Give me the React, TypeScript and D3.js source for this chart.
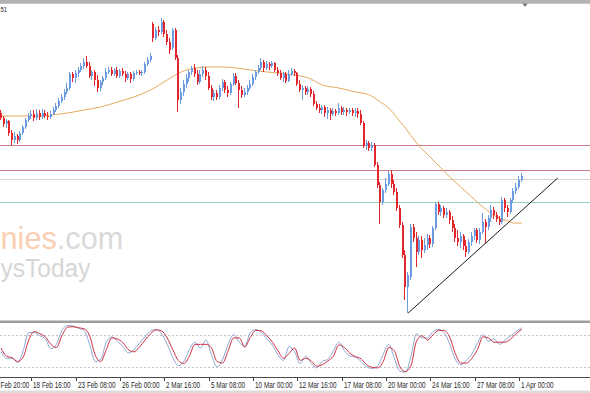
import React from 'react';
import * as d3 from 'd3';

// H4 candles: [open, high, low, close]
const candles: [number, number, number, number][] = [
  [1317,1320,1310,1312],[1312,1314,1303,1306],[1306,1311,1302,1309],[1309,1310,1294,1297],[1297,1300,1285,1290],
  [1290,1298,1287,1294],[1294,1296,1286,1290],[1290,1299,1288,1297],[1297,1305,1295,1303],[1303,1312,1301,1310],
  [1310,1317,1308,1314],[1314,1320,1311,1316],[1316,1320,1309,1312],[1312,1321,1310,1317],[1317,1320,1310,1313],
  [1313,1321,1311,1317],[1317,1320,1312,1314],[1314,1318,1310,1313],[1313,1319,1311,1316],[1316,1323,1315,1320],
  [1320,1327,1318,1324],[1324,1332,1322,1329],[1329,1336,1327,1333],[1333,1341,1330,1338],[1338,1347,1336,1342],
  [1342,1358,1340,1356],[1356,1358,1348,1352],[1352,1360,1347,1357],[1357,1363,1353,1360],[1360,1367,1358,1364],
  [1364,1372,1361,1368],[1368,1374,1362,1364],[1364,1368,1352,1354],[1354,1360,1350,1358],[1358,1360,1344,1350],
  [1350,1355,1338,1342],[1342,1350,1339,1348],[1348,1354,1345,1352],[1352,1362,1350,1358],[1358,1363,1356,1360],
  [1360,1363,1354,1356],[1356,1362,1354,1360],[1360,1363,1352,1354],[1354,1361,1352,1359],[1359,1362,1354,1356],
  [1356,1359,1348,1352],[1352,1358,1350,1356],[1356,1358,1347,1351],[1351,1359,1349,1357],[1357,1360,1355,1358],
  [1358,1360,1355,1357],[1357,1360,1354,1358],[1358,1368,1356,1366],[1366,1373,1364,1370],[1370,1377,1368,1374],
  [1406,1408,1388,1392],[1392,1403,1390,1400],[1400,1404,1394,1398],[1398,1412,1396,1408],[1408,1410,1393,1396],
  [1396,1400,1385,1388],[1388,1392,1376,1380],[1382,1402,1380,1400],[1400,1402,1370,1372],[1372,1375,1318,1330],
  [1330,1342,1326,1338],[1338,1350,1334,1346],[1346,1356,1342,1352],[1352,1360,1348,1358],[1358,1364,1355,1362],
  [1362,1366,1353,1356],[1356,1360,1345,1348],[1348,1360,1346,1356],[1356,1364,1353,1360],[1360,1363,1350,1354],
  [1354,1358,1340,1342],[1342,1345,1330,1333],[1333,1340,1329,1337],[1337,1340,1330,1333],[1333,1345,1331,1342],
  [1342,1351,1339,1348],[1348,1350,1337,1340],[1340,1344,1333,1337],[1337,1348,1335,1346],[1346,1357,1344,1354],
  [1354,1357,1345,1347],[1347,1350,1322,1340],[1340,1344,1332,1335],[1335,1342,1333,1338],[1338,1345,1335,1342],
  [1342,1350,1340,1346],[1346,1356,1344,1353],[1353,1360,1350,1358],[1358,1365,1356,1362],[1362,1372,1360,1368],
  [1368,1370,1358,1362],[1362,1369,1360,1366],[1366,1368,1360,1364],[1364,1369,1362,1367],[1367,1368,1358,1360],
  [1360,1363,1354,1357],[1357,1360,1350,1352],[1352,1358,1348,1356],[1356,1358,1347,1349],[1349,1360,1348,1356],
  [1356,1362,1354,1359],[1359,1361,1354,1357],[1357,1358,1344,1346],[1346,1350,1338,1340],[1340,1345,1330,1342],
  [1342,1344,1335,1338],[1338,1344,1335,1341],[1341,1343,1333,1336],[1336,1339,1324,1326],[1326,1329,1320,1322],
  [1322,1326,1317,1320],[1320,1325,1316,1323],[1323,1325,1313,1317],[1317,1323,1311,1320],[1320,1322,1310,1316],
  [1316,1322,1314,1319],[1319,1321,1314,1317],[1317,1327,1315,1322],[1322,1324,1315,1318],[1318,1323,1315,1320],
  [1320,1322,1314,1318],[1318,1322,1316,1320],[1320,1322,1314,1317],[1317,1322,1313,1319],[1319,1322,1312,1316],
  [1316,1320,1305,1307],[1307,1309,1282,1284],[1284,1290,1280,1287],[1287,1289,1279,1282],[1282,1288,1279,1285],
  [1285,1287,1263,1265],[1265,1268,1242,1245],[1245,1248,1206,1228],[1228,1242,1225,1240],[1240,1252,1237,1246],
  [1246,1259,1244,1256],[1256,1260,1242,1246],[1246,1250,1235,1238],[1238,1242,1219,1222],[1222,1225,1202,1205],
  [1205,1208,1172,1175],[1175,1180,1130,1143],[1143,1158,1117,1155],[1153,1206,1150,1203],[1203,1206,1188,1192],
  [1192,1198,1163,1178],[1178,1194,1175,1190],[1190,1194,1172,1180],[1180,1192,1177,1185],[1185,1196,1180,1192],
  [1192,1195,1182,1186],[1186,1204,1183,1202],[1202,1228,1200,1226],[1226,1228,1215,1218],[1218,1225,1214,1222],
  [1222,1224,1212,1215],[1215,1222,1212,1218],[1218,1220,1206,1210],[1210,1214,1198,1202],[1202,1206,1188,1192],
  [1192,1200,1184,1188],[1188,1198,1182,1194],[1194,1196,1180,1184],[1184,1190,1173,1178],[1178,1191,1176,1188],
  [1188,1198,1184,1194],[1194,1202,1190,1200],[1200,1202,1187,1190],[1190,1202,1186,1198],[1198,1217,1196,1208],
  [1208,1211,1187,1203],[1203,1215,1200,1212],[1212,1225,1208,1220],[1220,1223,1211,1215],[1215,1218,1208,1211],
  [1211,1214,1205,1208],[1208,1233,1206,1230],[1230,1232,1218,1222],[1222,1225,1213,1218],[1218,1232,1216,1230],
  [1230,1242,1227,1239],[1239,1247,1236,1243],[1243,1254,1241,1250],[1250,1257,1248,1254],
];

// moving average: [bar index, value]
const movingAverage: [number, number][] = [
  [0,1314],[6,1314],[12,1314],[18,1315],[24,1317],[30,1320],[36,1323],[42,1328],[48,1333],[54,1340],
  [60,1350],[65,1358],[70,1362],[75,1363],[80,1363],[85,1362],[90,1360],[96,1358],[100,1357],[104,1356],
  [108,1354],[111,1352],[116,1345],[122,1342],[128,1338],[133,1335],[137,1328],[140,1322],[143,1312],
  [146,1302],[150,1287],[156,1270],[162,1253],[168,1238],[174,1223],[179,1213],[183,1209],[185,1207],[188,1207],
];

// stochastic, one value every 2 bars
const STOCH_STEP = 2;
const stochK = [
  48,36,36,28,50,84,84,78,72,54, 62,88,97,96,92,88,62,30,34,66, 76,68,58,46,52,64,76,87,90,82,
  62,38,22,30,52,66,55,70,42,20, 34,62,80,66,58,84,90,84,72,60, 42,32,58,48,26,40,26,18,30,34,
  50,66,50,40,38,30,20,17,22,44, 62,36,12,10,40,82,74,74,86,90, 84,62,34,24,32,44,64,80,68,72,
  62,70,78,86,93,
];
const stochD = [
  55,40,37,30,38,70,86,82,76,62, 56,78,94,95,93,91,78,42,30,52, 74,72,65,52,48,57,70,82,89,87,
  74,52,32,26,40,62,62,62,55,30, 27,50,74,74,57,75,88,87,78,66, 50,36,45,55,32,36,31,21,24,31,
  40,61,56,45,39,35,24,19,18,30, 56,50,20,11,22,68,78,70,80,88, 88,75,45,27,27,36,52,76,74,66,
  66,66,72,82,90,
];
const stochLevels = [80, 20];

const levelPrices = [1285, 1260, 1251, 1228];
const levelColors = ['#cf7c8a', '#cf7c8a', '#dccfcf', '#98d2c4'];

const trendLine: [number, number][] = [[147, 1117], [201, 1252]];

const tickBars = [-5, 11, 27, 43, 59, 75, 91, 107, 123, 139, 155, 171, 187];
const tickLabels = [
  'Feb 20:00', '18 Feb 16:00', '23 Feb 08:00', '26 Feb 00:00', '2 Mar 16:00', '5 Mar 08:00',
  '10 Mar 00:00', '12 Mar 16:00', '17 Mar 08:00', '20 Mar 00:00', '24 Mar 16:00', '27 Mar 08:00', '1 Apr 00:00',
];

const BULL = '#6b9be0';
const BEAR = '#e2262e';
const FONT = '"Liberation Sans", Arial, sans-serif';

export default function App() {
  const W = 590, H = 393;
  const x = d3.scaleLinear().domain([0, 187]).range([1, 519]);
  const y = d3.scaleLinear().domain([1110, 1430]).range([320, 0]);
  const ys = d3.scaleLinear().domain([0, 100]).range([377.5, 324]);

  const maPath = d3.line<[number, number]>().x(d => x(d[0])).y(d => y(d[1])).curve(d3.curveMonotoneX)(movingAverage) || '';
  const stochLine = d3.line<number>().x((_, i) => x(i * STOCH_STEP)).y(d => ys(d)).curve(d3.curveMonotoneX);
  const trendPath = d3.line<[number, number]>().x(d => x(d[0])).y(d => y(d[1]))(trendLine) || '';

  return (
    <svg width={W} height={H} viewBox={`0 0 ${W} ${H}`} style={{ position: 'absolute', left: 0, top: 0, background: '#fff' }}>
      <defs>
        <clipPath id="mainClip"><rect x={0} y={3} width={W} height={317} /></clipPath>
        <clipPath id="oscClip"><rect x={0} y={323} width={W} height={54} /></clipPath>
      </defs>
      <rect x={0} y={0} width={W} height={H} fill="#ffffff" />

      {/* watermark */}
      <text x={0.5} y={249} fontFamily={FONT} fontSize={30.7}>
        <tspan fill="#f8cfb2">nies</tspan><tspan fill="#dadada">.com</tspan>
      </text>
      <text x={0.5} y={277} fontFamily={FONT} fontSize={26} fill="#d6d6d6" textLength={90} lengthAdjust="spacingAndGlyphs">ysToday</text>

      <g clipPath="url(#mainClip)">
        {levelPrices.map((p, i) => (
          <line key={'lv' + i} x1={0} x2={W} y1={Math.round(y(p)) + 0.5} y2={Math.round(y(p)) + 0.5}
            stroke={levelColors[i]} strokeWidth={1} />
        ))}
        <path d={maPath} fill="none" stroke="#e6a95e" strokeWidth={1} />
        {candles.map((c, i) => {
          const [o, h, l, cl] = c;
          const cx = Math.round(x(i));
          const col = cl >= o ? BULL : BEAR;
          const top = y(Math.max(o, cl));
          const bh = Math.max(1, Math.abs(y(o) - y(cl)));
          return (
            <g key={'c' + i}>
              <line x1={cx - 0.5} x2={cx - 0.5} y1={y(h)} y2={y(l)} stroke={col} strokeWidth={1} />
              <rect x={cx - 1} y={top} width={2} height={bh} fill={col} />
            </g>
          );
        })}
        <path d={trendPath} fill="none" stroke="#1a1a1a" strokeWidth={1} />
      </g>

      {/* top bar and chart shift marker */}
      <rect x={0} y={0} width={W} height={2.5} fill="#b3b3b3" />
      <line x1={0} x2={W} y1={3} y2={3} stroke="#8c8c8c" strokeWidth={1} />
      <polygon points="522.5,3.5 527.5,3.5 525,7" fill="#707070" />
      <text transform="translate(0.5,11.5) scale(0.78,1)" fontFamily={FONT} fontSize={7.5} fill="#222">51</text>

      {/* separator */}
      <rect x={0} y={320.5} width={W} height={2.5} fill="#9d9d9d" />

      {/* oscillator */}
      <g clipPath="url(#oscClip)">
        {stochLevels.map(v => (
          <line key={'sl' + v} x1={0} x2={W} y1={Math.round(ys(v)) + 0.5} y2={Math.round(ys(v)) + 0.5}
            stroke="#c4c4c4" strokeWidth={1} strokeDasharray="2,2" />
        ))}
        <path d={stochLine(stochK) || ''} fill="none" stroke="#8ea9d2" strokeWidth={1} />
        <path d={stochLine(stochD) || ''} fill="none" stroke="#cf2f42" strokeWidth={1} />
      </g>
      <line x1={0} x2={W} y1={377.5} y2={377.5} stroke="#4a4a4a" strokeWidth={1} />

      {/* time axis */}
      {tickBars.map((b, i) => {
        const tx = Math.round(x(b)) + 0.5;
        const lx = Math.max(0.5, tx + 1.5);
        return (
          <g key={'t' + i}>
            {tx > 0 && <line x1={tx} x2={tx} y1={378} y2={381} stroke="#444" strokeWidth={1} />}
            <text transform={`translate(${lx},387.5) scale(0.78,1)`} fontFamily={FONT} fontSize={8.2} fill="#2a2a2a">
              {tickLabels[i]}
            </text>
          </g>
        );
      })}
      <rect x={0} y={390.5} width={W} height={2.5} fill="#dcdcdc" />
    </svg>
  );
}
